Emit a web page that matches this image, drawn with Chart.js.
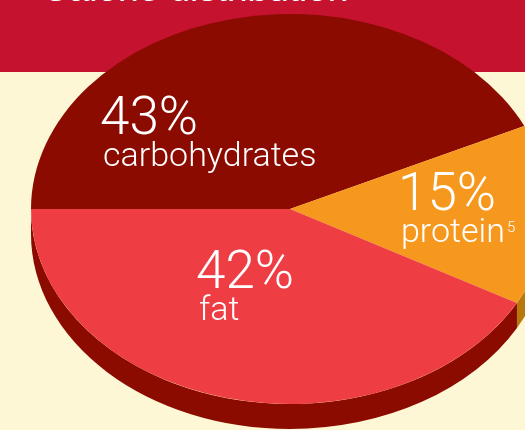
<!DOCTYPE html>
<html>
<head>
<meta charset="utf-8">
<script src="https://cdn.jsdelivr.net/npm/chart.js@4.4.1/dist/chart.umd.min.js"></script>
<style>
    html, body { margin: 0; padding: 0; }
    body { width: 525px; height: 430px; overflow: hidden; position: relative; background: #FEF7D6; }
    #band { position: absolute; left: 0; top: 0; width: 525px; height: 72px; background: #C4122F; overflow: hidden; }
    #title { position: absolute; left: 42px; top: -30px; color: #fff; font: 37px "Liberation Sans", Arial, sans-serif; white-space: nowrap; line-height: 37px; }
    #pie { position: absolute; left: 31px; top: -50px; }
</style>
</head>
<body>
<div id="band"><div id="title">Calorie distribution</div></div>
<canvas id="pie" width="518" height="518"></canvas>
<script>
// dati del grafico
const categories = ['carbohydrates', 'protein', 'fat'];
const shares = [43, 15, 42];
const notes = ['', '5', ''];

const topColors = ['#8C0B00', '#F7981E', '#EF3D44'];
const sideColors = ['#8C0B00', '#B8790C', '#8C0B00'];

// posizione delle etichette (pagina -> canvas)
const OFF_X = 31, OFF_Y = -50;
const labelPos = [
    { x: 103, y: 134 },
    { x: 401, y: 210 },
    { x: 199, y: 288 }
];

const RY = 195;     // semiasse verticale dell'ellisse
const DEPTH = 25;   // spessore 3D

const pie3d = {
    id: 'pie3d',
    beforeDatasetsDraw(chart) {
        const ctx = chart.ctx;
        const arcs = chart.getDatasetMeta(0).data;
        const cx = arcs[0].x, cy = arcs[0].y, rx = arcs[0].outerRadius;
        const ry = RY;
        // lato frontale
        arcs.forEach((a, i) => {
            [0, 2 * Math.PI, 4 * Math.PI].forEach(base => {
                const s = Math.max(a.startAngle, base);
                const e = Math.min(a.endAngle, base + Math.PI);
                if (e <= s) return;
                ctx.beginPath();
                ctx.ellipse(cx, cy, rx, ry, 0, s, e);
                ctx.ellipse(cx, cy + DEPTH, rx, ry, 0, e, s, true);
                ctx.closePath();
                ctx.fillStyle = sideColors[i];
                ctx.fill();
            });
        });
        ctx.save();
        ctx.translate(cx, cy);
        ctx.scale(1, ry / rx);
        ctx.translate(-cx, -cy);
    },
    afterDatasetsDraw(chart) {
        const ctx = chart.ctx;
        ctx.restore();
        ctx.save();
        ctx.fillStyle = '#fff';
        ctx.textBaseline = 'alphabetic';
        ctx.textAlign = 'left';
        categories.forEach((c, i) => {
            const p = labelPos[i];
            const x = p.x - OFF_X, y = p.y - OFF_Y;
            ctx.font = '300 53px Roboto, "Liberation Sans", sans-serif';
            ctx.fillText(shares[i] + '%', x - 3, y);
            ctx.font = '300 34px Roboto, "Liberation Sans", sans-serif';
            ctx.fillText(c, x, y + 32);
            if (notes[i]) {
                const w = ctx.measureText(c).width;
                ctx.font = '300 15px Roboto, "Liberation Sans", sans-serif';
                ctx.fillText(notes[i], x + w + 2, y + 22);
            }
        });
        ctx.restore();
    }
};

new Chart(document.getElementById('pie'), {
    type: 'pie',
    data: {
        labels: categories,
        datasets: [{
            data: shares,
            backgroundColor: topColors,
            borderWidth: 0,
            hoverOffset: 0
        }]
    },
    options: {
        responsive: false,
        animation: false,
        rotation: 270,
        layout: { padding: 0 },
        plugins: {
            legend: { display: false },
            tooltip: { enabled: false }
        }
    },
    plugins: [pie3d]
});
</script>
</body>
</html>
